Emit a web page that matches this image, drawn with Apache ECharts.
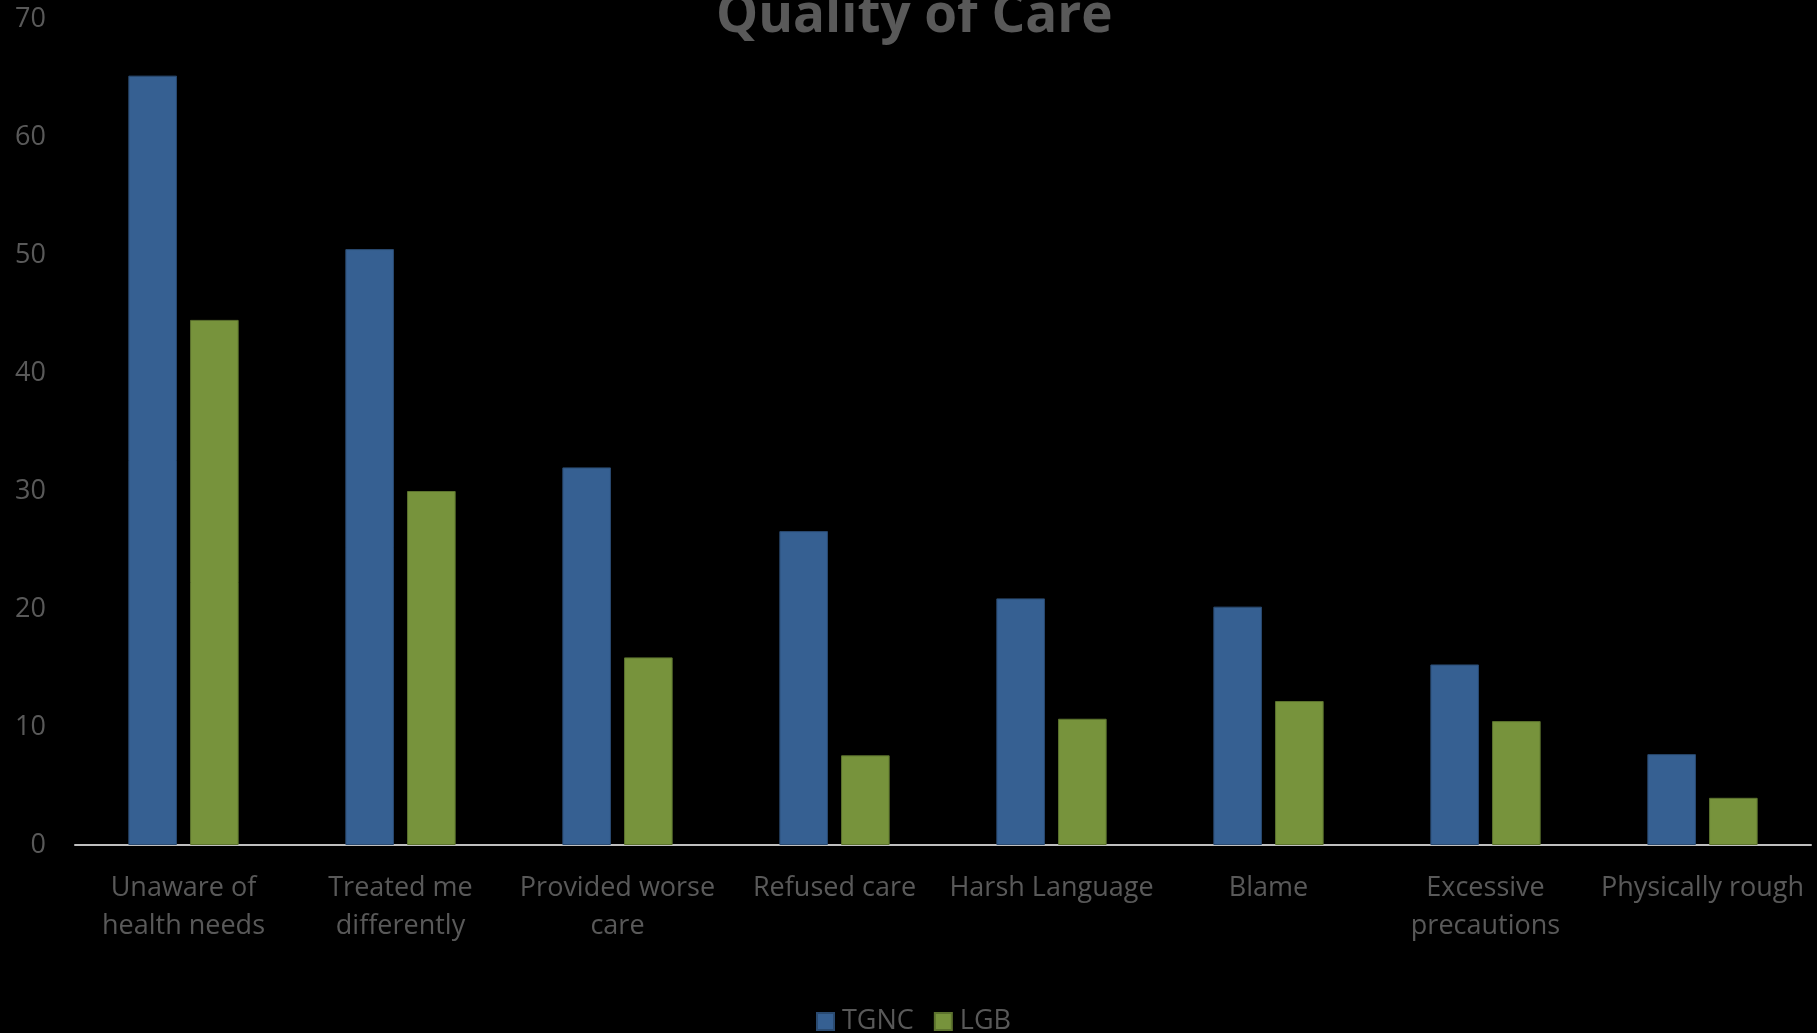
<!DOCTYPE html>
<html>
<head>
<meta charset="utf-8">
<title>Quality of Care</title>
<script src="https://cdn.jsdelivr.net/npm/echarts@6/dist/echarts.min.js"></script>
<style>
  html, body { margin: 0; padding: 0; background: #000; }
  #chart { width: 1817px; height: 1033px; }
</style>
</head>
<body>
<div id="chart"></div>
<script>
// Reported experiences with providers, percent of respondents
const categories = [
  'Unaware of\nhealth needs',
  'Treated me\ndifferently',
  'Provided worse\ncare',
  'Refused care',
  'Harsh Language',
  'Blame',
  'Excessive\nprecautions',
  'Physically rough'
];
const tgnc = [65.2, 50.5, 32.0, 26.6, 20.9, 20.2, 15.3, 7.7];
const lgb = [44.5, 30.0, 15.9, 7.6, 10.7, 12.2, 10.5, 4.0];
const seriesNames = ['TGNC', 'LGB'];
const yTicks = { min: 0, max: 70, interval: 10 };

const textGray = '#595959';
const font = '"Open Sans", "DejaVu Sans", sans-serif';

const chart = echarts.init(document.getElementById('chart'));
chart.setOption({
  backgroundColor: '#000000',
  animation: false,
  textStyle: { fontFamily: font },
  title: {
    text: 'Quality of Care',
    left: 711,
    top: -15,
    textStyle: { color: textGray, fontSize: 53, fontWeight: 'bold', fontFamily: font }
  },
  grid: { left: 75, right: 6, top: 19, bottom: 188, containLabel: false },
  legend: {
    data: seriesNames,
    left: 811,
    top: 1003,
    itemWidth: 17,
    itemHeight: 17,
    itemGap: 20,
    icon: 'rect',
    textStyle: { color: textGray, fontSize: 27, fontFamily: font, padding: [0, 0, 0, 3] }
  },
  xAxis: {
    type: 'category',
    data: categories,
    axisLine: { show: true, lineStyle: { color: '#BFBFBF', width: 2 } },
    axisTick: { show: false },
    axisLabel: {
      color: textGray,
      fontSize: 27,
      lineHeight: 38,
      margin: 24,
      interval: 0,
      fontFamily: font
    },
    splitLine: { show: false }
  },
  yAxis: {
    type: 'value',
    min: yTicks.min,
    max: yTicks.max,
    interval: yTicks.interval,
    axisLine: { show: false },
    axisTick: { show: false },
    splitLine: { show: false },
    axisLabel: { color: textGray, fontSize: 27, margin: 29, fontFamily: font }
  },
  series: [
    {
      name: seriesNames[0],
      type: 'bar',
      data: tgnc,
      barWidth: '22.4%',
      barGap: '27%',
      itemStyle: { color: '#366092', borderColor: '#2A4A70', borderWidth: 1 }
    },
    {
      name: seriesNames[1],
      type: 'bar',
      data: lgb,
      barWidth: '22.4%',
      barGap: '27%',
      itemStyle: { color: '#77933C', borderColor: '#5C722E', borderWidth: 1 }
    }
  ]
});
</script>
</body>
</html>
